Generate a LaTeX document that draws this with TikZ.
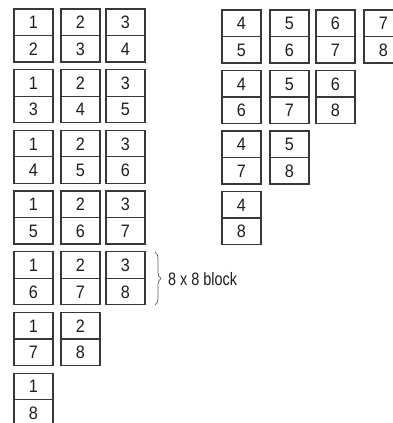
\documentclass[tikz,border=0pt]{standalone}
\usepackage{fontspec}
\setmainfont{Liberation Sans}
\usetikzlibrary{decorations.pathreplacing}
\definecolor{boxline}{HTML}{383838}
\definecolor{txt}{HTML}{1E1E1E}
\newcommand\nrw[1]{\scalebox{0.9}[1]{#1}}
\newcommand\nrwl[1]{\scalebox{0.8}[1]{#1}}
\tikzset{
  half/.style={draw=boxline, line width=1.2pt, minimum width=39pt, minimum height=26.5pt,
    inner sep=0pt, text height=13pt, text depth=0pt, text=txt,
    font=\fontsize{18}{20}\selectfont},
  bracestyle/.style={draw=boxline!80, line width=0.7pt, decorate,
    decoration={brace, amplitude=6pt}},
  lbl/.style={text=txt, font=\fontsize{18}{20}\selectfont, inner sep=0pt, anchor=west}
}
\begin{document}
\begin{tikzpicture}[x=1pt,y=1pt]
\useasboundingbox (0,0) rectangle (393,423);
% left group: columns 1..3
\foreach \i/\xl in {1/14, 2/61, 3/106}{
  \foreach \j in {2,...,8}{
    \pgfmathtruncatemacro{\r}{\j-\i}
    \ifnum\r>0
      \pgfmathsetmacro{\yt}{423-(9+(\r-1)*60.7)}
      \node[half] (t\i\j) at (\xl+19.5, \yt-13.25) {\nrw{\i}};
      \node[half] (b\i\j) at (\xl+19.5, \yt-39.75) {\nrw{\j}};
    \fi
  }
}
% right group: columns 4..7
\foreach \i/\xl in {4/222, 5/270, 6/316, 7/364}{
  \foreach \j in {5,...,8}{
    \pgfmathtruncatemacro{\r}{\j-\i}
    \ifnum\r>0
      \pgfmathsetmacro{\yt}{423-(10+(\r-1)*60.5)}
      \node[half] (t\i\j) at (\xl+19.5, \yt-13.25) {\nrw{\i}};
      \node[half] (b\i\j) at (\xl+19.5, \yt-39.75) {\nrw{\j}};
    \fi
  }
}
% brace and label
\coordinate (bracetop) at (155, 423-252);
\coordinate (bracebot) at (155, 423-305);
\draw[bracestyle] (bracetop) -- (bracebot);
\node[lbl] (blocklbl) at (168, 423-279.5) {\nrwl{8 x 8 block}};
\end{tikzpicture}
\end{document}
